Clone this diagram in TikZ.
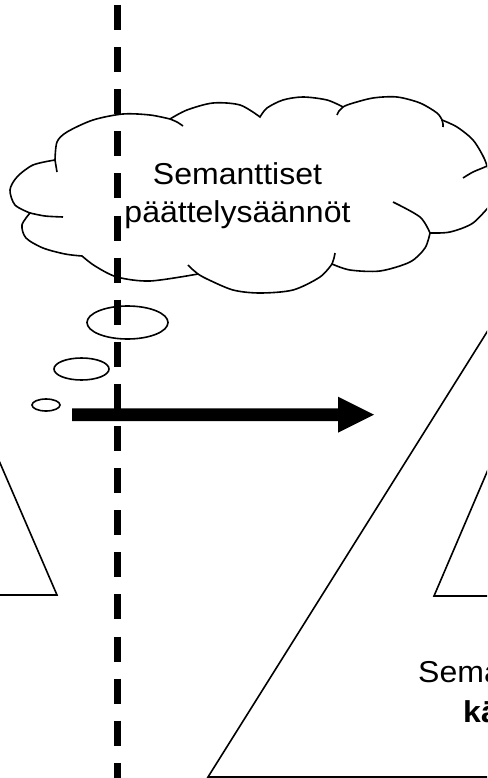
\documentclass[tikz,border=0pt]{standalone}
\usepackage{fontspec}
\setmainfont{Liberation Sans}
\newfontfamily\cloudfont[FakeStretch=1.06]{Liberation Sans}
\usetikzlibrary{calc,shapes.geometric}
\begin{document}
\begin{tikzpicture}[x=1pt,y=-1pt,
  outline/.style={line width=1.6pt,black},
  bubble/.style={ellipse,draw,line width=1.6pt,fill=white,inner sep=0pt},
  divider/.style={line width=7pt,dash pattern=on 25pt off 17.1pt},
  txt/.style={inner sep=0pt,font=\cloudfont\fontsize{30.2}{36}\selectfont},
  btxt/.style={inner sep=0pt,font=\cloudfont\bfseries\fontsize{30.2}{36}\selectfont}]
\useasboundingbox (0,0) rectangle (487,778);
\clip (0,0) rectangle (487,778);
% cloud
\path[outline,fill=white,draw]
  plot[smooth] coordinates {(55,160) (57,142) (67,132) (93,120) (123,114) (150,115) (170,119)}
  -- plot[smooth] coordinates {(170,119) (187,110) (213,103) (240,105) (260,117)}
  -- plot[smooth] coordinates {(260,117) (267,108) (283,100) (303,97) (327,100) (343,107)}
  -- plot[smooth] coordinates {(343,107) (350,104) (373,98) (397,97) (420,103) (437,113) (442,120)}
  -- plot[smooth] coordinates {(442,120) (457,127) (473,140) (484,158) (490,175)}
  -- (505,180) -- (505,200)
  -- plot[smooth] coordinates {(492,203) (473,223) (450,232) (430,233)}
  -- plot[smooth] coordinates {(430,233) (425,248) (410,262) (380,271) (350,270) (332,264)}
  -- plot[smooth] coordinates {(332,264) (320,277) (293,290) (260,293) (233,290) (207,279) (198,274)}
  -- plot[smooth] coordinates {(198,274) (150,281) (117,277) (95,266) (82,256)}
  -- plot[smooth] coordinates {(82,256) (65,254) (43,248) (26,238) (22,225) (30,213)}
  -- plot[smooth] coordinates {(30,213) (15,205) (10,190) (17,177) (33,165) (55,160)}
  -- cycle;
% creases
\draw[outline] plot[smooth] coordinates {(55,160) (56,166) (57,172)};
\draw[outline] plot[smooth] coordinates {(170,119) (177,122) (183,126)};
\draw[outline] plot[smooth] coordinates {(343,107) (339,111) (337,115)};
\draw[outline] plot[smooth] coordinates {(442,120) (443,124) (443,127)};
\draw[outline] plot[smooth] coordinates {(463,178) (473,172) (487,166) (495,160)};
\draw[outline] plot[smooth] coordinates {(430,233) (420,217) (393,202)};
\draw[outline] plot[smooth] coordinates {(332,264) (334,258) (335,253)};
\draw[outline] plot[smooth] coordinates {(198,274) (192,269) (188,265)};
\draw[outline] plot[smooth] coordinates {(30,213) (45,216) (63,217)};
% cloud text
\node[txt,anchor=base] (t1) at (237.5,184) {Semanttiset};
\node[txt,anchor=base] (t2) at (237.5,222) {päättelysäännöt};
% thought bubbles
\node[bubble,minimum width=81pt,minimum height=33pt] (b1) at (127.5,322.5) {};
\node[bubble,minimum width=55pt,minimum height=22pt] (b2) at (81.5,369) {};
\node[bubble,minimum width=28pt,minimum height=12pt] (b3) at (46,405) {};
% dashed divider
\coordinate (dtop) at (117,5);
\coordinate (dbot) at (117,800);
\draw[divider] (dtop) -- (dbot);
% arrow
\coordinate (arrS) at (72,414.7);
\coordinate (arrE) at (374,414.7);
\fill ($(arrS)+(0,-6.3)$) -- ($(arrE)+(-36,-6.3)$) -- ($(arrE)+(-36,-18)$) -- (arrE)
  -- ($(arrE)+(-36,18)$) -- ($(arrE)+(-36,6.3)$) -- ($(arrS)+(0,6.3)$) -- cycle;
% triangles
\draw[outline] (-3,456) -- (57,595) -- (-3,595);
\draw[outline] (490,465) -- (434,596) -- (492,596);
\draw[outline] (492,324) -- (208,777) -- (492,777);
% bottom text
\node[txt,anchor=base west] (t3) at (418,682) {Sema};
\node[btxt,anchor=base west] (t4) at (463,722) {kä};
\end{tikzpicture}
\end{document}
